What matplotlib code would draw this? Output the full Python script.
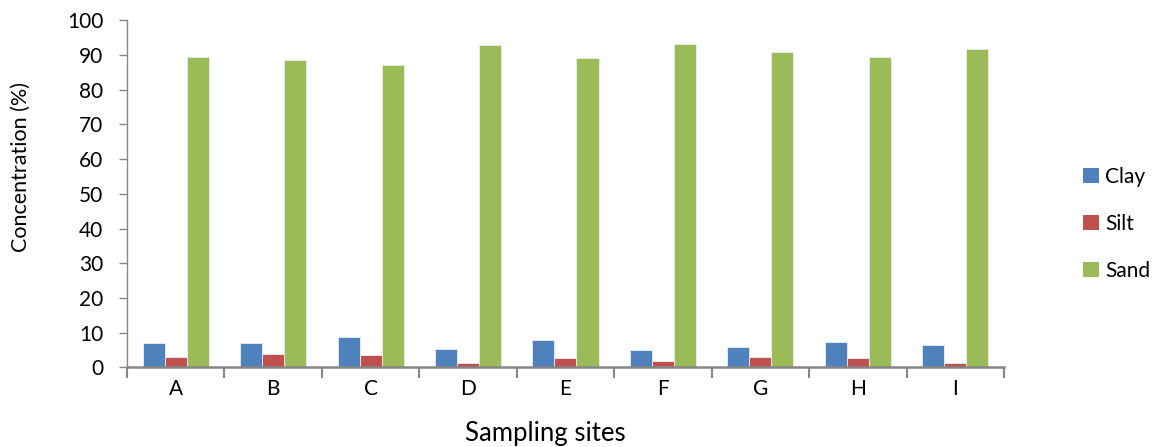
import matplotlib.pyplot as plt
import numpy as np
from matplotlib.patches import Patch

plt.rcParams['font.family'] = ['Lato', 'DejaVu Sans']

sites = ['A', 'B', 'C', 'D', 'E', 'F', 'G', 'H', 'I']
clay = [7.1, 7.1, 8.8, 5.4, 7.9, 4.9, 5.9, 7.3, 6.4]
silt = [3.0, 3.8, 3.6, 1.3, 2.7, 1.8, 2.9, 2.7, 1.4]
sand = [89.4, 88.6, 87.2, 92.9, 89.1, 93.0, 90.9, 89.5, 91.8]

colors = ['#4F81BD', '#C0504D', '#9BBB59']
names = ['Clay', 'Silt', 'Sand']

fig = plt.figure(figsize=(11.62, 4.47), dpi=100)
ax = fig.add_axes([0.1093, 0.178, 0.7547, 0.777])

x = np.arange(len(sites))
w = 0.226
for i, (vals, c) in enumerate(zip([clay, silt, sand], colors)):
    ax.bar(x + (i - 1) * w, vals, width=w, color=c, edgecolor='#e8eef6', linewidth=0.6)

ax.set_xlim(-0.5, len(sites) - 0.5)
ax.set_ylim(0, 100)
ax.set_yticks(np.arange(0, 101, 10))
ax.set_xticks(x)
ax.set_xticklabels(sites)
ax.set_xticks(np.arange(-0.5, len(sites), 1), minor=True)
ax.tick_params(axis='x', which='major', length=0, labelsize=15, pad=8)
ax.tick_params(axis='x', which='minor', length=8, width=1.5, color='#868686')
ax.tick_params(axis='y', length=6, width=1, color='#868686', labelsize=15, pad=11)

for s in ['top', 'right']:
    ax.spines[s].set_visible(False)
for s in ['left', 'bottom']:
    ax.spines[s].set_color('#868686')
ax.spines['bottom'].set_linewidth(1.8)
ax.spines['left'].set_linewidth(1)

ax.set_xlabel('Sampling sites', fontsize=18.5, va='top')
ax.xaxis.set_label_coords(0.477, -0.155)
ax.set_ylabel('Concentration (%)', fontsize=15.5)
ax.yaxis.set_label_coords(-0.1095, 0.578)

handles = [Patch(facecolor=c, label=n) for c, n in zip(colors, names)]
fig.legend(handles=handles, loc='center left', bbox_to_anchor=(0.932, 0.499),
           frameon=False, fontsize=15, handlelength=0.77, handleheight=0.7,
           labelspacing=1.3, handletextpad=0.3, borderpad=0, borderaxespad=0)

fig.savefig('out.png', dpi=100)
